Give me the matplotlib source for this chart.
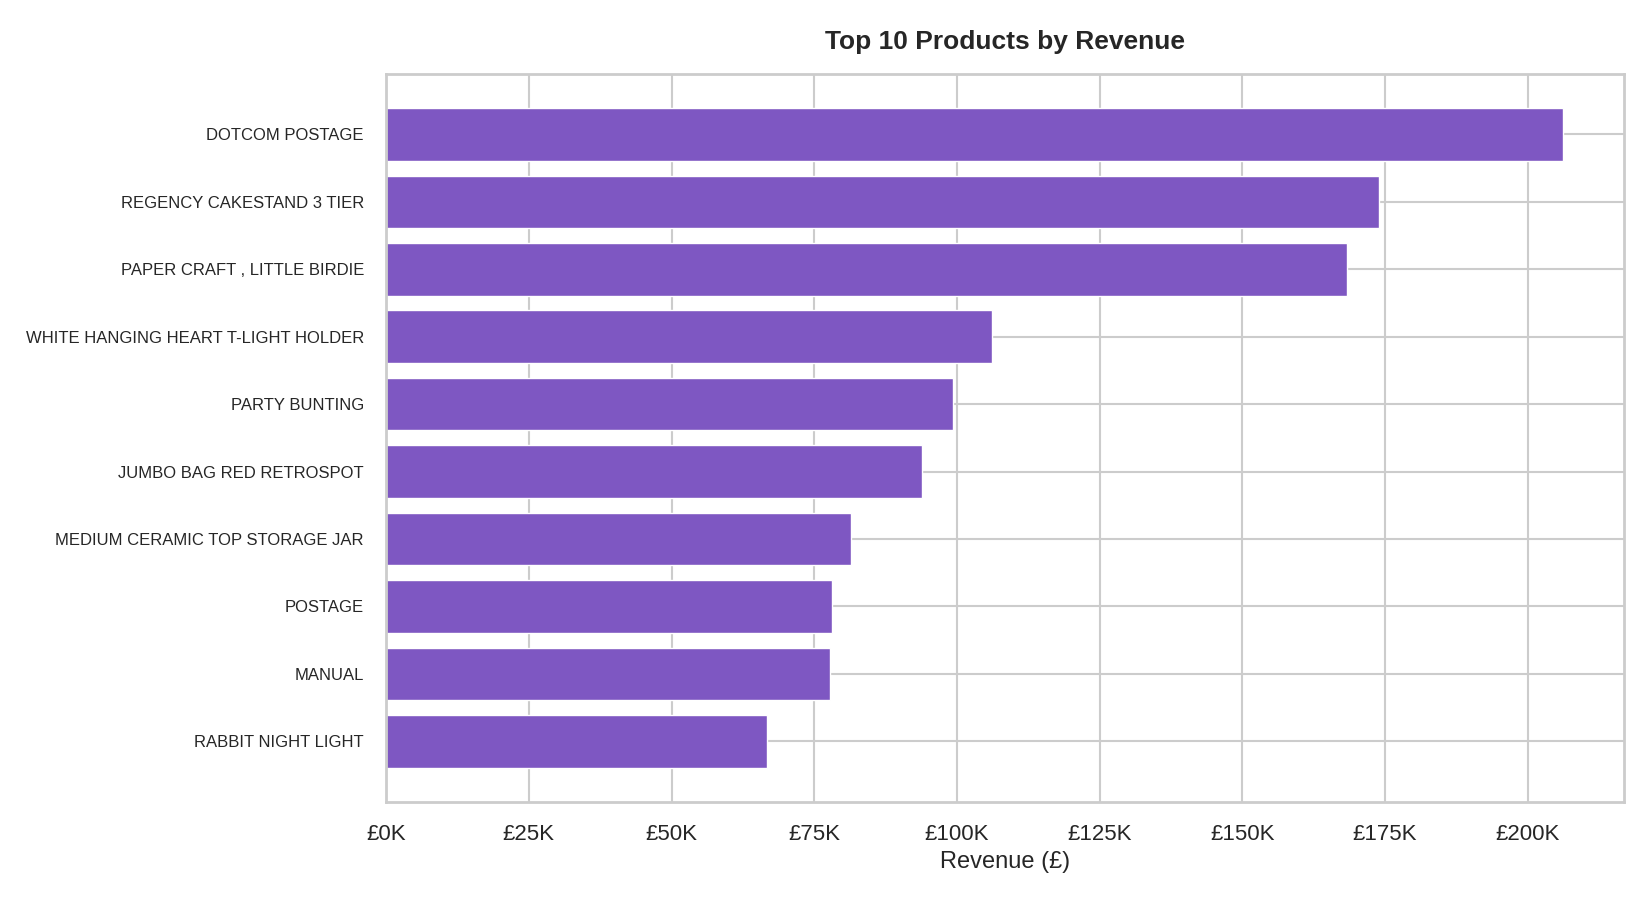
import matplotlib
matplotlib.use("Agg")
import matplotlib.pyplot as plt
import seaborn as sns
from matplotlib.ticker import FuncFormatter

products = ["DOTCOM POSTAGE", "REGENCY CAKESTAND 3 TIER", "PAPER CRAFT , LITTLE BIRDIE",
            "WHITE HANGING HEART T-LIGHT HOLDER", "PARTY BUNTING", "JUMBO BAG RED RETROSPOT",
            "MEDIUM CERAMIC TOP STORAGE JAR", "POSTAGE", "MANUAL", "RABBIT NIGHT LIGHT"]
revenue = [206100, 174000, 168300, 106100, 99400, 93900, 81400, 78100, 77700, 66700]

sns.set_theme(style="whitegrid")
plt.rcParams['font.family'] = ['Liberation Sans', 'DejaVu Sans']
fig = plt.figure(figsize=(16.5, 9), dpi=100)
ax = fig.add_axes([0.234, 0.109, 0.75, 0.809])
y = list(range(len(products)))
ax.barh(y, revenue, color="#7E57C2", height=0.78, edgecolor="white", linewidth=1)
ax.set_yticks(y)
ax.set_yticklabels(products, fontsize=12)
ax.invert_yaxis()
ax.set_ylim(9.9, -0.9)
ax.set_xlim(0, 216800)
ax.set_xticks([0, 25000, 50000, 75000, 100000, 125000, 150000, 175000, 200000])
ax.xaxis.set_major_formatter(FuncFormatter(lambda v, p: f"£{int(v/1000)}K"))
ax.tick_params(axis='x', labelsize=16, pad=10)
ax.tick_params(axis='y', pad=10)
ax.set_xlabel("Revenue (£)", fontsize=17, labelpad=4)
ax.set_title("Top 10 Products by Revenue", fontsize=19, fontweight="bold", pad=18)
for s in ax.spines.values():
    s.set_color("#cccccc"); s.set_linewidth(2)
ax.grid(color="#cccccc", linewidth=1.5)
fig.savefig("out.png")
